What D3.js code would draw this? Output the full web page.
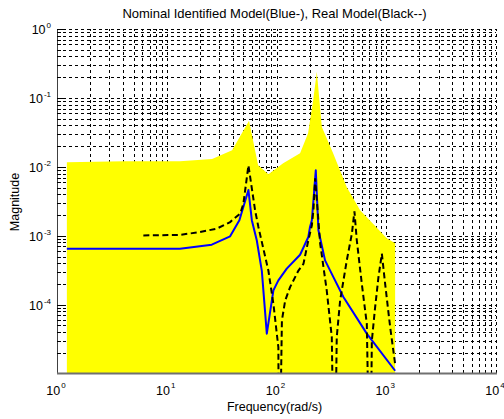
<!DOCTYPE html>
<html>
<head>
<meta charset="utf-8">
<script src="https://cdn.jsdelivr.net/npm/d3@7"></script>
<style>
  body { margin: 0; background: #fff; }
  text { font-family: "Liberation Sans", Arial, sans-serif; fill: #000; }
</style>
</head>
<body>
<div class="chart"></div>
<script>
// uncertainty band (upper bound)
const bandFreq = [1.23, 4.08, 13.2, 25.9, 39.4, 56.2, 68, 84.4, 115, 164, 194, 216, 233, 259, 328, 437, 578, 1012, 1205]
const bandMag = [0.01166, 0.01205, 0.01205, 0.01303, 0.0174, 0.0465, 0.01055, 0.0078, 0.01128, 0.0158, 0.0308, 0.093, 0.24, 0.0377, 0.0158, 0.00505, 0.00234, 9.2e-4, 7.8e-4]

// nominal identified model (blue, solid)
const nomFreq = [1.23, 13.2, 25.7, 37.8, 45.9, 55.5, 59.6, 66.1, 73.5, 81.6, 93.7, 104, 124, 164, 195, 202, 210, 228, 241, 277, 330, 407, 665, 1205]
const nomMag = [6.49e-4, 6.49e-4, 7.43e-4, 9.8e-4, 1.68e-3, 4.6e-3, 1.68e-3, 8.6e-4, 3.1e-4, 3.8e-5, 1.61e-4, 2.25e-4, 3.33e-4, 5.3e-4, 9.6e-4, 1.34e-3, 1.68e-3, 8.9e-3, 1.2e-3, 4.39e-4, 2.51e-4, 1.29e-4, 3.8e-5, 1.1e-5]

// real model (black, dashed) - the notches drop below the axis
const realFreq = [6.12, 13.2, 20.1, 28.6, 37.8, 46.7, 49.9, 55.5, 63.8, 68.4, 84.4, 93.7, 104, 105.5, 112, 120, 133, 158, 176, 195, 210, 217, 225, 250, 287, 319, 337, 354, 380, 437, 486, 513, 539, 599, 665, 713, 739, 792, 849, 912, 977, 1086, 1205]
const realMag = [1.01e-3, 1.03e-3, 1.13e-3, 1.27e-3, 1.58e-3, 2.1e-3, 2.9e-3, 1.05e-2, 2.34e-3, 1.34e-3, 3.1e-4, 1.03e-4, 2.4e-5, 1e-7, 5.9e-5, 1.15e-4, 1.8e-4, 3.1e-4, 3.9e-4, 8.6e-4, 1.42e-3, 2.34e-3, 6.8e-3, 7.7e-4, 1.6e-4, 3.4e-5, 1e-7, 3.4e-5, 1.15e-4, 4.4e-4, 1.07e-3, 2.26e-3, 8.6e-4, 2.0e-4, 5.3e-5, 1e-7, 3.0e-5, 9.2e-5, 2.5e-4, 5.5e-4, 2.0e-4, 4.7e-5, 1.38e-5]

const xTickExps = [0, 1, 2, 3, 4]
const yTickExps = [0, -1, -2, -3, -4]

const title = "Nominal Identified Model(Blue-), Real Model(Black--)"
const xTitle = "Frequency(rad/s)"
const yTitle = "Magnitude"

var width = 504
var height = 419
var plotL = 57, plotR = 496, plotT = 29, plotB = 373

var svg = d3.select(".chart").append("svg")
    .attr("width", width)
    .attr("height", height)

svg.append("rect")
    .attr("width", width)
    .attr("height", height)
    .attr("fill", "#fff")

var xScale = d3.scaleLog()
    .domain([1, 1e4])
    .range([plotL, plotR])

var yScale = d3.scaleLog()
    .domain([1.02e-5, 1])
    .range([plotB, plotT])

svg.append("clipPath")
    .attr("id", "plot-clip")
  .append("rect")
    .attr("x", plotL)
    .attr("y", plotT)
    .attr("width", plotR - plotL)
    .attr("height", plotB - plotT)

// log grid, major + minor, dashed
var xGrid = []
for (var e = 0; e < 4; e++) {
    for (var k = 1; k < 10; k++) xGrid.push(k * Math.pow(10, e))
}
xGrid.push(1e4)

var yGrid = []
for (var e = -5; e < 0; e++) {
    for (var k = 1; k < 10; k++) {
        var v = k * Math.pow(10, e)
        if (v >= yScale.domain()[0]) yGrid.push(v)
    }
}
yGrid.push(1)

var grid = svg.append("g")
    .attr("stroke", "#000")
    .attr("stroke-width", 1)
    .attr("stroke-dasharray", "3,3")
    .attr("shape-rendering", "crispEdges")

grid.selectAll(".vgrid")
    .data(xGrid.slice(1))
    .enter().append("line")
    .attr("class", "vgrid")
    .attr("x1", d => Math.round(xScale(d)) + 0.5)
    .attr("x2", d => Math.round(xScale(d)) + 0.5)
    .attr("y1", plotB)
    .attr("y2", plotT)

grid.selectAll(".hgrid")
    .data(yGrid)
    .enter().append("line")
    .attr("class", "hgrid")
    .attr("x1", plotL)
    .attr("x2", plotR)
    .attr("y1", d => Math.round(yScale(d)) + 0.5)
    .attr("y2", d => Math.round(yScale(d)) + 0.5)

var plot = svg.append("g")
    .attr("clip-path", "url(#plot-clip)")

var band = bandFreq.map((f, i) => [f, bandMag[i]])
plot.append("path")
    .datum(band)
    .attr("fill", "#ffff00")
    .attr("stroke", "none")
    .attr("d", d3.area()
        .x(d => xScale(d[0]))
        .y0(plotB + 2)
        .y1(d => yScale(d[1])))

var nominal = nomFreq.map((f, i) => [f, nomMag[i]])
plot.append("path")
    .datum(nominal)
    .attr("fill", "none")
    .attr("stroke", "#0000ff")
    .attr("stroke-width", 2)
    .attr("stroke-linejoin", "round")
    .attr("d", d3.line()
        .x(d => xScale(d[0]))
        .y(d => yScale(d[1])))

var real = realFreq.map((f, i) => [f, realMag[i]])
plot.append("path")
    .datum(real)
    .attr("fill", "none")
    .attr("stroke", "#000")
    .attr("stroke-width", 2)
    .attr("stroke-dasharray", "6,3.5")
    .attr("d", d3.line()
        .x(d => xScale(d[0]))
        .y(d => yScale(d[1])))

// axes lines (no box on top/right)
svg.append("line")
    .attr("x1", plotL + 0.5)
    .attr("x2", plotL + 0.5)
    .attr("y1", plotT)
    .attr("y2", plotB)
    .attr("stroke", "#404040")
    .attr("stroke-width", 1)

svg.append("line")
    .attr("x1", plotL)
    .attr("x2", plotR + 1)
    .attr("y1", plotB + 0.5)
    .attr("y2", plotB + 0.5)
    .attr("stroke", "#707070")
    .attr("stroke-width", 2)

// small inside ticks on left axis
svg.selectAll(".ytick")
    .data(yGrid)
    .enter().append("line")
    .attr("class", "ytick")
    .attr("x1", plotL)
    .attr("x2", d => plotL + (Math.abs(Math.log10(d) - Math.round(Math.log10(d))) < 1e-6 ? 6 : 4))
    .attr("y1", d => Math.round(yScale(d)) + 0.5)
    .attr("y2", d => Math.round(yScale(d)) + 0.5)
    .attr("stroke", "#000")
    .attr("stroke-width", 1)

// tick labels: 10 with superscript exponent
svg.selectAll(".ylabel")
    .data(yTickExps)
    .enter().append("text")
    .attr("class", "ylabel")
    .attr("x", 51)
    .attr("y", d => yScale(Math.pow(10, d)) + 5)
    .attr("text-anchor", "end")
    .style("font-size", "12.5px")
    .each(function(d) {
        var t = d3.select(this)
        t.append("tspan").text("10")
        t.append("tspan")
            .attr("dy", -6)
            .attr("dx", 1)
            .style("font-size", "8px")
            .text(d)
    })

svg.selectAll(".xlabel")
    .data(xTickExps)
    .enter().append("text")
    .attr("class", "xlabel")
    .attr("x", d => xScale(Math.pow(10, d)) - 1)
    .attr("y", 395)
    .attr("text-anchor", "middle")
    .style("font-size", "12.5px")
    .each(function(d) {
        var t = d3.select(this)
        t.append("tspan").text("10")
        t.append("tspan")
            .attr("dy", -7)
            .attr("dx", 1)
            .style("font-size", "8px")
            .text(d)
    })

svg.append("text")
    .attr("x", (plotL + plotR) / 2 - 2)
    .attr("y", 18)
    .attr("text-anchor", "middle")
    .style("font-size", "13px")
    .text(title)

svg.append("text")
    .attr("x", (plotL + plotR) / 2 - 2)
    .attr("y", 411)
    .attr("text-anchor", "middle")
    .style("font-size", "12.5px")
    .text(xTitle)

svg.append("text")
    .attr("transform", "translate(19," + ((plotT + plotB) / 2 + 1) + ") rotate(-90)")
    .attr("text-anchor", "middle")
    .style("font-size", "12.5px")
    .text(yTitle)
</script>
</body>
</html>
